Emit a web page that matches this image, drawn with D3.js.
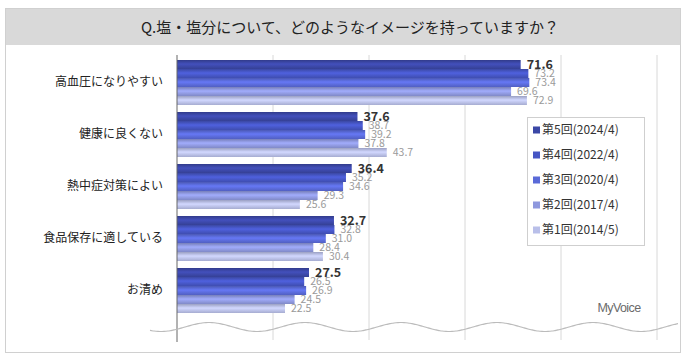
<!DOCTYPE html>
<html>
<head>
<meta charset="utf-8">
<script src="https://cdn.jsdelivr.net/npm/d3@7"></script>
<style>
  html, body { margin: 0; padding: 0; background: #fff; }
  svg { display: block; font-family: "Noto Sans CJK JP", "Noto Sans", sans-serif; }
</style>
</head>
<body>
<svg id="chart" width="694" height="362"></svg>
<script>
// Survey items (y categories) and survey waves (series)
const categories = ["高血圧になりやすい", "健康に良くない", "熱中症対策によい", "食品保存に適している", "お清め"];
const seriesNames = ["第5回(2024/4)", "第4回(2022/4)", "第3回(2020/4)", "第2回(2017/4)", "第1回(2014/5)"];

// Percentages per wave, in category order
const wave5 = [71.6, 37.6, 36.4, 32.7, 27.5];
const wave4 = [73.2, 38.7, 35.2, 32.8, 26.5];
const wave3 = [73.4, 39.2, 34.6, 31.0, 26.9];
const wave2 = [69.6, 37.8, 29.3, 28.4, 24.5];
const wave1 = [72.9, 43.7, 25.6, 30.4, 22.5];
const seriesValues = [wave5, wave4, wave3, wave2, wave1];

const gridTicks = [20, 40, 60, 80, 100];
const title = "Q.塩・塩分について、どのようなイメージを持っていますか？";

const barColors = ["#3b47a6", "#4656c4", "#5a6ad8", "#8e98de", "#b9bfe9"];

const svg = d3.select("#chart");
const W = 694, H = 362;

// Frame and title band
svg.append("rect").attr("x", 5.5).attr("y", 8.5).attr("width", 675).attr("height", 344)
  .attr("fill", "#fff").attr("stroke", "#d0d0d0");
svg.append("rect").attr("x", 6).attr("y", 9).attr("width", 674).attr("height", 36)
  .attr("fill", "#d9d9d9");
svg.append("text").attr("x", 350).attr("y", 33).attr("text-anchor", "middle")
  .attr("font-size", 15).attr("fill", "#222").text(title);

// Scales
const x = d3.scaleLinear().domain([0, 100]).range([177, 657]);
const y0 = d3.scaleBand().domain(categories).range([56, 316]);
const y1 = d3.scaleBand().domain(seriesNames).range([4, 49]).padding(0);

// Gradients giving the bars a slight rounded look
const defs = svg.append("defs");
barColors.forEach((c, i) => {
  const g = defs.append("linearGradient").attr("id", "g" + i)
    .attr("x1", 0).attr("y1", 0).attr("x2", 0).attr("y2", 1);
  const base = d3.color(c);
  g.append("stop").attr("offset", "0%").attr("stop-color", base.darker(0.5));
  g.append("stop").attr("offset", "45%").attr("stop-color", base.brighter(0.35));
  g.append("stop").attr("offset", "100%").attr("stop-color", base.darker(0.3));
});

// Gridlines
svg.append("g").selectAll("line").data(gridTicks).join("line")
  .attr("x1", d => x(d)).attr("x2", d => x(d))
  .attr("y1", 55).attr("y2", 340)
  .attr("stroke", "#d8d8d8").attr("stroke-width", 1);

// Bars
const groups = svg.append("g").selectAll("g").data(categories).join("g")
  .attr("transform", c => `translate(0,${y0(c)})`);

seriesNames.forEach((s, si) => {
  groups.append("rect")
    .attr("x", x(0))
    .attr("y", y1(s))
    .attr("width", (c, ci) => x(seriesValues[si][ci]) - x(0))
    .attr("height", y1.bandwidth())
    .attr("fill", `url(#g${si})`);
});

// Value labels (latest wave emphasised)
for (let si = seriesNames.length - 1; si >= 0; si--) {
  const s = seriesNames[si];
  groups.append("text")
    .attr("x", (c, ci) => x(seriesValues[si][ci]) + 6)
    .attr("y", y1(s) + y1.bandwidth() / 2)
    .attr("dy", "0.36em")
    .attr("font-size", si === 0 ? 12.5 : 10.5)
    .attr("font-weight", si === 0 ? "bold" : "normal")
    .attr("fill", si === 0 ? "#333" : "#9a9a9a")
    .text((c, ci) => seriesValues[si][ci].toFixed(1));
}

// Category axis
const yAxis = d3.axisLeft(y0).tickSize(0).tickPadding(14);
const ya = svg.append("g").attr("transform", `translate(${x(0)},0)`).call(yAxis);
ya.select(".domain").remove();
ya.selectAll("text").attr("font-size", 12).attr("fill", "#222")
  .attr("font-family", "\"Noto Sans CJK JP\", sans-serif");
svg.append("line").attr("x1", x(0)).attr("x2", x(0)).attr("y1", 55).attr("y2", 342)
  .attr("stroke", "#666").attr("stroke-width", 1);

// Wavy break line across the bottom
const wave = d3.range(150, 679, 2).map(px => [px, 327 - 4.5 * Math.cos((px - 209) / 96 * 2 * Math.PI)]);
svg.append("path").attr("d", d3.line().curve(d3.curveBasis)(wave))
  .attr("fill", "none").attr("stroke", "#bbb").attr("stroke-width", 1.2);

// Legend
const lg = svg.append("g");
lg.append("rect").attr("x", 527.5).attr("y", 117.5).attr("width", 117).attr("height", 128)
  .attr("fill", "#fff").attr("stroke", "#cfcfcf");
seriesNames.forEach((s, i) => {
  const ly = 130 + i * 25;
  lg.append("rect").attr("x", 533).attr("y", ly - 3.5).attr("width", 7).attr("height", 7)
    .attr("fill", barColors[i]);
  lg.append("text").attr("x", 542).attr("y", ly).attr("dy", "0.36em")
    .attr("font-size", 12).attr("fill", "#333").text(s);
});

// Brand mark
svg.append("text").attr("x", 619).attr("y", 312).attr("text-anchor", "middle")
  .attr("font-size", 12.5).attr("letter-spacing", -0.6).attr("fill", "#6a6a6a")
  .attr("font-family", "\"Liberation Sans\", sans-serif").text("MyVoice");
</script>
</body>
</html>
